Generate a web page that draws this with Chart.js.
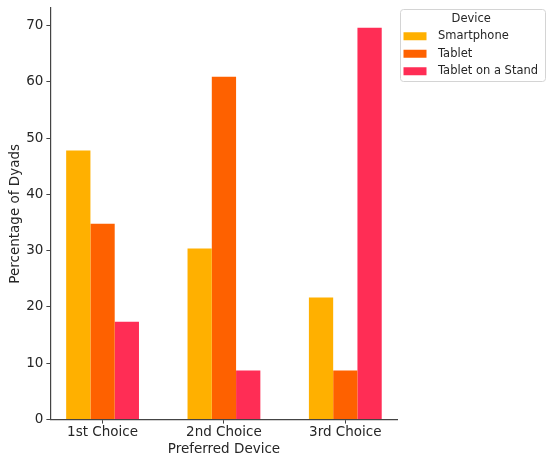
<!DOCTYPE html>
<html lang="en">
<head>
    <meta charset="UTF-8">
    <title>Preferred Device</title>
    <style>
        html, body { margin: 0; padding: 0; background: #fff; }
        #chart-container { width: 550px; height: 460px; }
    </style>
</head>
<body>
    <div id="chart-container">
        <canvas id="device-chart"></canvas>
    </div>

    <script src="https://cdn.jsdelivr.net/npm/chart.js"></script>
    <script>
        // data
        const choices = ['1st Choice', '2nd Choice', '3rd Choice'];
        const smartphone = [47.8, 30.4, 21.7];
        const tablet = [34.8, 60.9, 8.7];
        const tabletStand = [17.4, 8.7, 69.6];
        const yTicks = [0, 10, 20, 30, 40, 50, 60, 70];

        const inkColor = '#262626';
        const axisColor = '#444';

        Chart.defaults.font.family = '"DejaVu Sans", sans-serif';

        // widen the legend a bit and put a frame round it (matplotlib style)
        const legendFrame = {
            id: 'legendFrame',
            afterInit(chart) {
                const lg = chart.legend;
                const fit = lg.fit;
                lg.fit = function () {
                    fit.call(this);
                    this.width += 13;
                };
            },
            afterDraw(chart) {
                const lg = chart.legend;
                if (!lg || !lg.legendHitBoxes.length) return;
                const boxes = lg.legendHitBoxes;
                const last = boxes[boxes.length - 1];
                const x = boxes[0].left - 4;
                const y = 9;
                const w = lg.right - x;
                const h = last.top + last.height + 4 - y;
                const ctx = chart.ctx;
                ctx.save();
                ctx.strokeStyle = '#d4d4d4';
                ctx.lineWidth = 1;
                ctx.beginPath();
                ctx.roundRect(Math.round(x) + 0.5, Math.round(y) + 0.5, Math.round(w) - 1, Math.round(h), 3);
                ctx.stroke();
                ctx.restore();
            }
        };

        const toPoints = (values) => values.map((v, i) => ({ x: i, y: v }));

        const ctx = document.getElementById('device-chart').getContext('2d');
        const chart = new Chart(ctx, {
            type: 'bar',
            data: {
                datasets: [
                    { label: 'Smartphone', data: toPoints(smartphone), backgroundColor: '#FFB000' },
                    { label: 'Tablet', data: toPoints(tablet), backgroundColor: '#FE6100' },
                    { label: 'Tablet on a Stand', data: toPoints(tabletStand), backgroundColor: '#FF2D55' }
                ]
            },
            options: {
                responsive: true,
                maintainAspectRatio: false,
                animation: false,
                categoryPercentage: 0.6,
                barPercentage: 1.0,
                layout: { padding: { top: 8, right: 5, left: 7, bottom: 2 } },
                plugins: {
                    tooltip: { enabled: false },
                    legend: {
                        position: 'right',
                        align: 'start',
                        title: {
                            display: true,
                            text: 'Device',
                            color: inkColor,
                            font: { size: 11.5, lineHeight: 1 },
                            padding: { top: 5, bottom: 0 }
                        },
                        labels: {
                            boxWidth: 23,
                            boxHeight: 8,
                            padding: 6,
                            color: inkColor,
                            font: { size: 11.5 },
                            // en space for matplotlib's wider gap between swatch and text
                            generateLabels: (chart) =>
                                Chart.defaults.plugins.legend.labels.generateLabels(chart)
                                    .map((item) => ({ ...item, text: '\u2002' + item.text }))
                        }
                    }
                },
                scales: {
                    x: {
                        type: 'linear',
                        offset: false,
                        min: -0.43,
                        max: 2.43,
                        afterBuildTicks: (scale) => {
                            scale.ticks = choices.map((c, i) => ({ value: i }));
                        },
                        ticks: {
                            color: inkColor,
                            font: { size: 13.5 },
                            padding: 1,
                            maxRotation: 0,
                            autoSkip: false,
                            callback: (value) => choices[value]
                        },
                        grid: { offset: false, drawOnChartArea: false, tickLength: 4, tickColor: axisColor },
                        border: { display: true, color: axisColor, width: 1.2 },
                        title: {
                            display: true,
                            text: 'Preferred Device',
                            color: inkColor,
                            font: { size: 13.5 },
                            padding: { top: 0, bottom: 0 }
                        }
                    },
                    y: {
                        min: 0,
                        max: 73.1,
                        afterBuildTicks: (scale) => {
                            scale.ticks = yTicks.map((v) => ({ value: v }));
                        },
                        afterFit: (scale) => {
                            scale.paddingTop = 0;
                        },
                        ticks: {
                            color: inkColor,
                            font: { size: 13.5 },
                            padding: 3
                        },
                        grid: { drawOnChartArea: false, tickLength: 4, tickColor: axisColor },
                        border: { display: true, color: axisColor, width: 1.2 },
                        title: {
                            display: true,
                            text: 'Percentage of Dyads',
                            color: inkColor,
                            font: { size: 13.5 },
                            padding: { top: 0, bottom: 0 }
                        }
                    }
                }
            },
            plugins: [legendFrame]
        });
    </script>
</body>
</html>
